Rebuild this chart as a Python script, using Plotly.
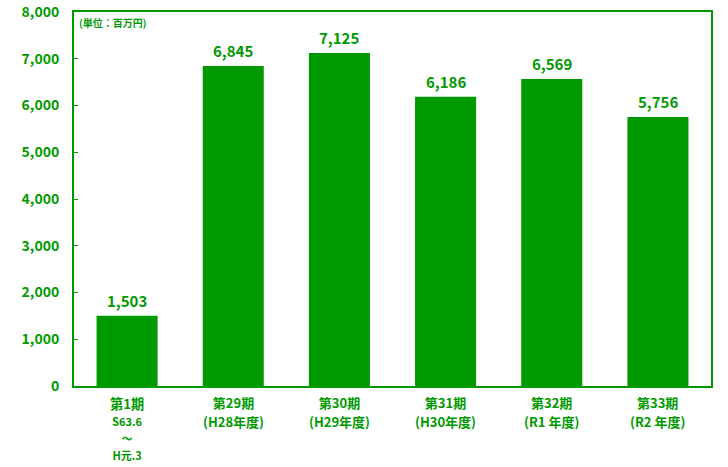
import plotly.graph_objects as go

categories = ["第1期", "第29期", "第30期", "第31期", "第32期", "第33期"]
category_sub = [
    ["S63.6", "～", "H元.3"],
    ["(H28年度)"],
    ["(H29年度)"],
    ["(H30年度)"],
    ["(R1 年度)"],
    ["(R2 年度)"],
]
values = [1503, 6845, 7125, 6186, 6569, 5756]
value_labels = [f"{v:,}" for v in values]
tick_vals = [0, 1000, 2000, 3000, 4000, 5000, 6000, 7000, 8000]
tick_text = [f"{v:,}" for v in tick_vals]

GREEN = "#009900"
FONT = "Noto Sans CJK JP"

fig = go.Figure()
fig.add_trace(go.Bar(
    x=categories,
    y=values,
    marker=dict(color=GREEN, line=dict(width=0)),
    width=0.575,
))

annotations = [dict(
    text="(単位：百万円)", xref="paper", yref="paper", x=0.004, y=1.0,
    xanchor="left", yanchor="top", yshift=-1, showarrow=False,
    font=dict(family=FONT, size=10, color=GREEN, weight="bold"),
)]
for c, v, t in zip(categories, values, value_labels):
    annotations.append(dict(
        x=c, y=v, xref="x", yref="y", text=t, showarrow=False,
        xanchor="center", yanchor="bottom", yshift=3,
        font=dict(family=FONT, size=15, color=GREEN, weight="bold"),
    ))

# category labels (multi-line) under each bar
for c, sub in zip(categories, category_sub):
    if len(sub) > 1:
        base = 13.2
        shift = -6
        text = f"{c}<br>" + "<br>".join(
            f"<span style='font-size:11px'>{s}</span>" for s in sub)
    else:
        base = 14.5
        shift = -5
        text = f"<span style='font-size:13px'>{c}</span><br>" + "".join(
            f"<span style='font-size:13px'>{s}</span>" for s in sub)
    annotations.append(dict(
        x=c, y=0, xref="x", yref="paper", text=text, showarrow=False,
        xanchor="center", yanchor="top", yshift=shift,
        font=dict(family=FONT, size=base, color=GREEN, weight="bold"),
    ))

fig.update_layout(
    width=728, height=467,
    margin=dict(l=74, r=17, t=12, b=81, autoexpand=False),
    paper_bgcolor="white", plot_bgcolor="white",
    showlegend=False,
    font=dict(family=FONT, color=GREEN),
    annotations=annotations,
)
fig.update_xaxes(
    showline=True, linecolor=GREEN, linewidth=2, mirror=True,
    showgrid=False, ticks="", automargin=False, showticklabels=False,
)
fig.update_yaxes(
    range=[0, 8000], tickvals=tick_vals, ticktext=tick_text,
    showline=True, linecolor=GREEN, linewidth=2, mirror=True,
    showgrid=False, zeroline=False, automargin=False,
    ticks="inside", ticklen=4, tickcolor=GREEN, tickwidth=1,
    tickfont=dict(family=FONT, size=14, color=GREEN, weight="bold"),
    ticklabelstandoff=10,
)

fig.write_html("out.html")
